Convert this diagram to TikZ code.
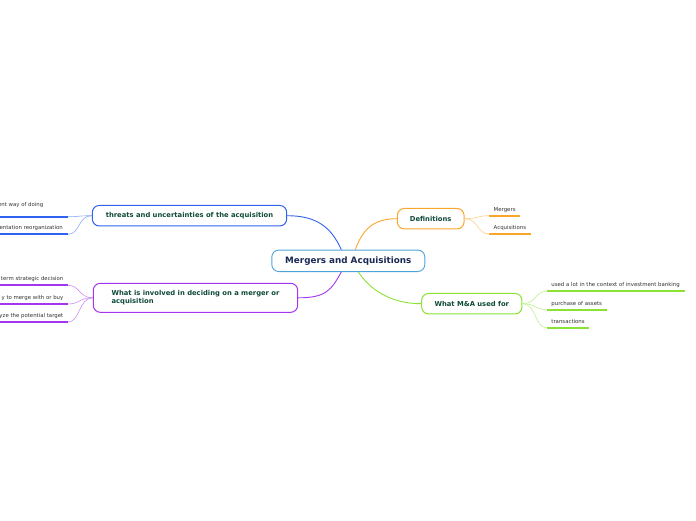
\documentclass[tikz,border=0pt]{standalone}
\usepackage{fontspec}
\setmainfont{DejaVu Sans}
\usepackage{xcolor}
\usetikzlibrary{positioning,calc}

\definecolor{rootblue}{HTML}{4FA3DC}
\definecolor{rootnavy}{HTML}{1B2A55}
\definecolor{labelgreen}{HTML}{0F4A3A}
\definecolor{threatblue}{HTML}{2F62F0}
\definecolor{deforange}{HTML}{F9A62B}
\definecolor{usedgreen}{HTML}{8AE234}
\definecolor{involvedpurple}{HTML}{A334F0}
\definecolor{leafgray}{HTML}{333333}

\begin{document}
\begin{tikzpicture}[
  x=1pt, y=-1pt,
  root/.style={draw=rootblue, line width=0.9pt, rounded corners=7pt, fill=white, minimum width=153pt, minimum height=21.5pt, font=\fontsize{8.8}{10}\selectfont\bfseries, text=rootnavy},
  branch/.style={draw, line width=1pt, rounded corners=7pt, fill=white, minimum height=20.5pt, font=\fontsize{6.8}{8.6}\selectfont\bfseries, text=labelgreen, inner xsep=0pt},
  leaf/.style={font=\fontsize{5.4}{6.5}\selectfont, text=leafgray, inner xsep=4.5pt, inner ysep=3pt, text height=4pt, text depth=1.3pt},
  main/.style={line width=0.9pt},
  twig/.style={line width=0.6pt},
  uline/.style={line width=1.8pt}
]
\useasboundingbox (0,0) rectangle (696,520);

% centre and branches
\node[root] (ma) at (348.3,260.8) {Mergers and Acquisitions};
\node[branch, draw=threatblue, minimum width=194.4pt] (threats) at (189.5,215.7) {threats and uncertainties of the acquisition};
\node[branch, draw=deforange, minimum width=66.7pt] (defs) at (430.7,218.7) {Definitions};
\node[branch, draw=usedgreen, minimum width=100.3pt] (usedfor) at (471.8,303.7) {What M\&A used for};
\node[branch, draw=involvedpurple, minimum width=204.4pt, minimum height=29pt, align=left] (involved) at (195.5,297.8) {What is involved in deciding on a merger or\\acquisition};

\draw[main, threatblue] ([xshift=-7pt]ma.north) .. controls +(-10,-22) and +(30,0) .. (threats.east);
\draw[main, deforange] ([xshift=7pt]ma.north) .. controls +(8,-22) and +(-22,0) .. (defs.west);
\draw[main, involvedpurple] ([xshift=-7pt]ma.south) .. controls +(-10,18) and +(28,0) .. (involved.east);
\draw[main, usedgreen] ([xshift=10pt]ma.south) .. controls +(12,18) and +(-30,0) .. (usedfor.west);

% definitions
\node[leaf, anchor=south west] (mergers) at (489,215.7) {Mergers};
\node[leaf, anchor=south west] (acq) at (489,234) {Acquisitions};
\draw[uline, deforange] (mergers.south west) -- (mergers.south east);
\draw[uline, deforange] (acq.south west) -- (acq.south east);
\draw[twig, deforange!55] (defs.east) .. controls +(14,0) and +(-12,0) .. (mergers.south west);
\draw[twig, deforange!55] (defs.east) .. controls +(14,0) and +(-12,0) .. (acq.south west);

% what M&A used for
\node[leaf, anchor=south west] (banking) at (546.7,291.3) {used a lot in the context of investment banking};
\node[leaf, anchor=south west] (assets) at (546.7,309.7) {purchase of assets};
\node[leaf, anchor=south west] (trans) at (546.7,327.7) {transactions};
\foreach \n in {banking,assets,trans}{
  \draw[uline, usedgreen] (\n.south west) -- (\n.south east);
  \draw[twig, usedgreen!55] (usedfor.east) .. controls +(14,0) and +(-12,0) .. (\n.south west);
}

% threats
\coordinate (t1) at (68,216.7);
\coordinate (t2) at (68,234.3);
\node[leaf, anchor=south east] (doing) at ([xshift=-20pt,yshift=6pt]t1) {ent way of doing};
\node[leaf, anchor=south east] (reorg) at ([xshift=-0.5pt]t2) {entation reorganization};
\foreach \c in {t1,t2}{
  \draw[uline, threatblue] (\c) -- ++(-70,0);
  \draw[twig, threatblue!55] (threats.west) .. controls +(-14,0) and +(12,0) .. (\c);
}

% what is involved
\coordinate (i1) at (68,285.3);
\coordinate (i2) at (68,304);
\coordinate (i3) at (68,322);
\node[leaf, anchor=south east] (strategic) at (i1) {term strategic decision};
\node[leaf, anchor=south east] (merge) at (i2) {y to merge with or buy};
\node[leaf, anchor=south east] (target) at (i3) {yze the potential target};
\foreach \c in {i1,i2,i3}{
  \draw[uline, involvedpurple] (\c) -- ++(-70,0);
  \draw[twig, involvedpurple!55] (involved.west) .. controls +(-14,0) and +(12,0) .. (\c);
}

\end{tikzpicture}
\end{document}
